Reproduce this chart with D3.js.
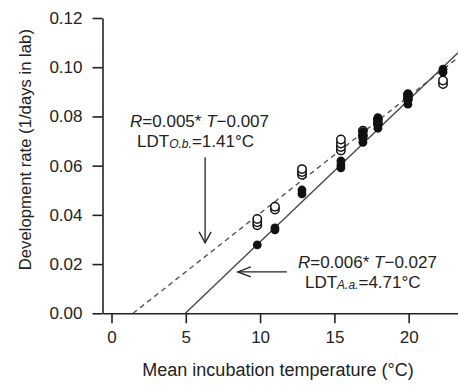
<!DOCTYPE html>
<html>
<head>
<meta charset="utf-8">
<script src="https://cdn.jsdelivr.net/npm/d3@7"></script>
<style>
  body { margin: 0; background: #fff; }
  svg text { font-family: "Liberation Sans", Arial, sans-serif; fill: #222; }
</style>
</head>
<body>
<div id="chart"></div>
<script>
// temperatures (°C) of the incubation groups
const temps = [9.81, 11.0, 12.82, 15.44, 16.92, 17.93, 19.95, 22.31];

// development rates, one list per temperature
const aaRates = [
  [0.0278],
  [0.0339, 0.0347],
  [0.0485, 0.0501],
  [0.0591, 0.0603, 0.0619],
  [0.0695, 0.0710, 0.0725, 0.0738],
  [0.0752, 0.0766, 0.0780, 0.0795],
  [0.0850, 0.0865, 0.0880, 0.0893],
  [0.0980, 0.0992]
];
const obRates = [
  [0.0358, 0.0370, 0.0383],
  [0.0422, 0.0433],
  [0.0563, 0.0574, 0.0586],
  [0.0662, 0.0676, 0.0690, 0.0706],
  [0.0722, 0.0742],
  [0.0770, 0.0788],
  [0.0872, 0.0888],
  [0.0932, 0.0946]
];

// fitted lines: slope and lower development threshold
const obFit = { slope: 0.00475, ldt: 1.45 };
const aaFit = { slope: 0.00577, ldt: 4.97 };

const xTicks = [0, 5, 10, 15, 20];
const yTicks = [0, 0.02, 0.04, 0.06, 0.08, 0.10, 0.12];

const width = 458, height = 385;

const svg = d3.select('#chart').append('svg')
  .attr('width', width)
  .attr('height', height);

const x = d3.scaleLinear().domain([-0.606, 23.32]).range([102.5, 458]);
const y = d3.scaleLinear().domain([0, 0.12]).range([313.3, 18]);

// axes
const yAxis = svg.append('g')
  .attr('transform', `translate(${x.range()[0]},0)`)
  .call(d3.axisLeft(y).tickValues(yTicks).tickFormat(d3.format('.2f')).tickSize(10).tickSizeOuter(0).tickPadding(10));

const xAxis = svg.append('g')
  .attr('transform', `translate(0,${y(0)})`)
  .call(d3.axisBottom(x).tickValues(xTicks).tickFormat(d3.format('d')).tickSize(10).tickSizeOuter(0).tickPadding(8));

[yAxis, xAxis].forEach(g => {
  g.select('.domain').attr('stroke', '#222').attr('stroke-width', 1.6);
  g.selectAll('.tick line').attr('stroke', '#222').attr('stroke-width', 1.6);
  g.selectAll('.tick text')
    .style('font-family', '"Liberation Sans", Arial, sans-serif')
    .style('font-size', '17px')
    .attr('fill', '#222');
});

// axis titles
svg.append('text')
  .attr('transform', `translate(31,${(y(0) + y(0.12)) / 2 - 16}) rotate(-90)`)
  .attr('text-anchor', 'middle')
  .style('font-size', '16.7px')
  .text('Development rate (1/days in lab)');

svg.append('text')
  .attr('x', 278)
  .attr('y', 376)
  .attr('text-anchor', 'middle')
  .style('font-size', '18px')
  .text('Mean incubation temperature (°C)');

// regression lines
const fitLine = f => [[f.ldt, 0], [x.domain()[1], f.slope * (x.domain()[1] - f.ldt)]];
const line = d3.line().x(d => x(d[0])).y(d => y(d[1]));

svg.append('path')
  .datum(fitLine(obFit))
  .attr('d', line)
  .attr('fill', 'none')
  .attr('stroke', '#555')
  .attr('stroke-width', 1.4)
  .attr('stroke-dasharray', '5,4');

svg.append('path')
  .datum(fitLine(aaFit))
  .attr('d', line)
  .attr('fill', 'none')
  .attr('stroke', '#444')
  .attr('stroke-width', 1.3);

// points
const flatten = rates => rates.flatMap((list, i) => list.map(r => ({ t: temps[i], r })));

svg.append('g')
  .selectAll('circle')
  .data(flatten(obRates))
  .enter().append('circle')
  .attr('cx', d => x(d.t))
  .attr('cy', d => y(d.r))
  .attr('r', 4.2)
  .attr('fill', '#fff')
  .attr('stroke', '#111')
  .attr('stroke-width', 1.5);

svg.append('g')
  .selectAll('circle')
  .data(flatten(aaRates))
  .enter().append('circle')
  .attr('cx', d => x(d.t))
  .attr('cy', d => y(d.r))
  .attr('r', 4.4)
  .attr('fill', '#111');

// annotations
function equation(tx, ty, slope, icpt, sub, ldt) {
  const t1 = svg.append('text')
    .attr('x', x(tx))
    .attr('y', y(ty))
    .style('font-size', '17px');
  t1.append('tspan').style('font-style', 'italic').text('R');
  t1.append('tspan').text(`=${slope}* `);
  t1.append('tspan').style('font-style', 'italic').text('T');
  t1.append('tspan').text(`\u2212${icpt}`);

  const t2 = svg.append('text')
    .attr('x', x(tx) + 7)
    .attr('y', y(ty) + 20)
    .style('font-size', '17px');
  t2.append('tspan').text('LDT');
  t2.append('tspan').style('font-style', 'italic').style('font-size', '12px').attr('dy', 1).text(sub);
  t2.append('tspan').attr('dy', -1).text(`=${ldt}°C`);
}

equation(1.25, 0.0757, '0.005', '0.007', 'O.b.', '1.41');
equation(12.55, 0.0184, '0.006', '0.027', 'A.a.', '4.71');

function arrow(x1, y1, x2, y2, len, half) {
  const p1 = [x(x1), y(y1)], p2 = [x(x2), y(y2)];
  const a = Math.atan2(p2[1] - p1[1], p2[0] - p1[0]);
  const g = svg.append('g').attr('stroke', '#222').attr('stroke-width', 1.3).attr('fill', 'none');
  g.append('line').attr('x1', p1[0]).attr('y1', p1[1]).attr('x2', p2[0]).attr('y2', p2[1]);
  const h = s => [p2[0] - len * Math.cos(a) + s * half * Math.sin(a), p2[1] - len * Math.sin(a) - s * half * Math.cos(a)];
  g.append('path').attr('d', `M${h(1)}L${p2}L${h(-1)}`);
}

arrow(6.3, 0.0634, 6.3, 0.0286, 11, 6);
arrow(11.8, 0.0168, 8.5, 0.0168, 13, 5);
</script>
</body>
</html>
